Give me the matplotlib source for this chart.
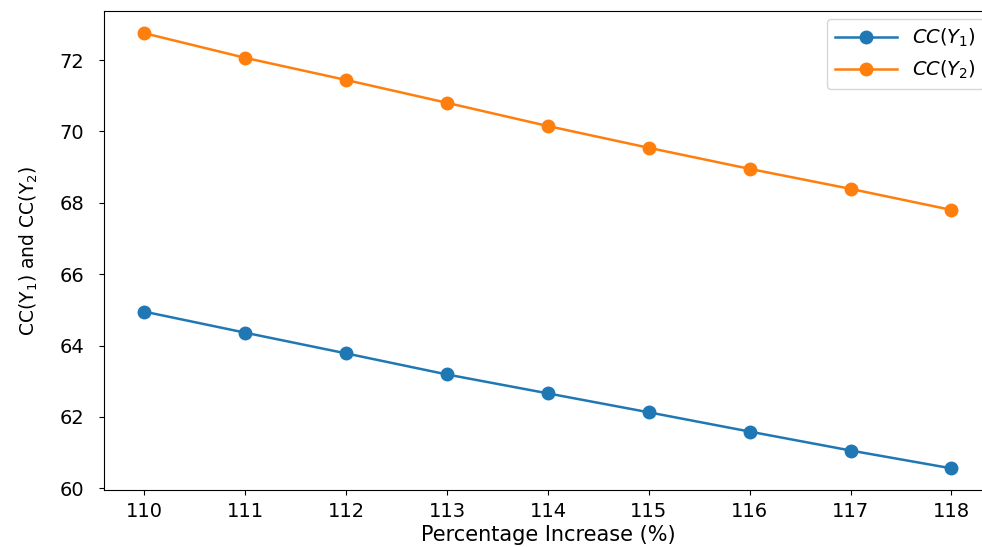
import matplotlib
matplotlib.use("Agg")
import matplotlib.pyplot as plt

# percentage increase on x axis
pct = [110, 111, 112, 113, 114, 115, 116, 117, 118]
cc_y1 = [64.95, 64.36, 63.78, 63.19, 62.66, 62.13, 61.59, 61.06, 60.56]
cc_y2 = [72.75, 72.06, 71.44, 70.80, 70.15, 69.54, 68.95, 68.39, 67.80]

fig = plt.figure(figsize=(9.82, 5.47), dpi=100)
# axes runs slightly past the right edge, as in the cropped original
ax = fig.add_axes([0.106, 0.104, 0.904, 0.875])

ax.plot(pct, cc_y1, marker='o', markersize=9, linewidth=1.8, label=r'$CC(Y_1)$')
ax.plot(pct, cc_y2, marker='o', markersize=9, linewidth=1.8, label=r'$CC(Y_2)$')

ax.set_xlabel('Percentage Increase (%)', fontsize=15, labelpad=3)
ax.set_ylabel(r'CC(Y$_1$) and CC(Y$_2$)', fontsize=13.5, labelpad=14)
ax.tick_params(axis='x', labelsize=14, pad=5)
ax.tick_params(axis='y', labelsize=14, pad=11)
ax.legend(fontsize=14, handlelength=3.2, borderaxespad=0.4)

fig.savefig('out.png', dpi=100)
